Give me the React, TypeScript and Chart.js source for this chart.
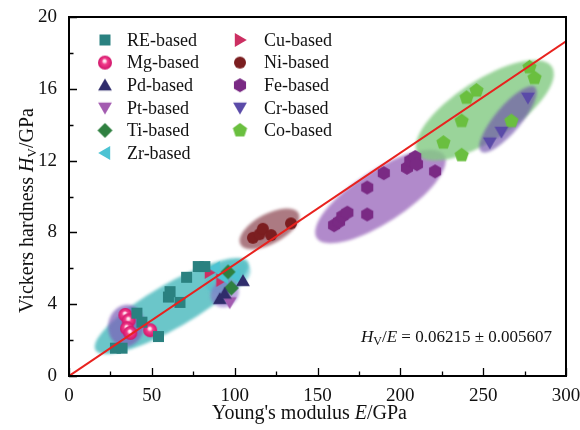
import React, { useEffect, useRef } from 'react';
import { Chart, registerables } from 'chart.js';

Chart.register(...registerables);

// ---------- data ----------
const reX = [28, 32, 41, 44, 54, 60, 61, 67, 71, 78, 82];
const reY = [1.55, 1.55, 3.5, 3.0, 2.2, 4.4, 4.7, 4.1, 5.5, 6.1, 6.1];
const mgX = [34, 36, 35, 37, 49];
const mgY = [3.4, 3.1, 2.65, 2.4, 2.55];
const pdX = [91, 94, 105];
const pdY = [4.3, 4.6, 5.3];
const ptX = [97];
const ptY = [4.1];
const tiX = [96, 98];
const tiY = [5.8, 4.9];
const zrX = [88, 93, 100];
const zrY = [6.0, 5.5, 5.6];
const cuX = [85, 92];
const cuY = [5.8, 5.35];
const niX = [111, 115, 117, 122, 134];
const niY = [7.7, 7.9, 8.2, 7.85, 8.5];
const feX = [160, 163, 165, 168, 180, 180, 190, 204, 206, 209, 210, 221];
const feY = [8.4, 8.6, 8.9, 9.1, 9.0, 10.5, 11.3, 11.6, 12.0, 12.2, 11.8, 11.4];
const crX = [254, 261, 277];
const crY = [13.0, 13.6, 15.5];
const coX = [226, 237, 237, 240, 246, 267, 278, 281];
const coY = [13.0, 12.3, 14.2, 15.5, 15.9, 14.2, 17.2, 16.6];

const fitSlope = 0.06215;
const fitErr = 0.005607;
const fitX = [0, 300];

const xTicks = [0, 50, 100, 150, 200, 250, 300];
const yTicks = [0, 4, 8, 12, 16, 20];

// shaded group regions: data-space centres
const groupCx = [62, 34.5, 96, 94, 121, 188, 251, 265];
const groupCy = [3.9, 2.8, 5.5, 4.6, 8.2, 10.0, 14.8, 14.3];

// ---------- styles ----------
const SERIF = '"Liberation Serif", "Times New Roman", serif';

type Series = { label: string; xs: number[]; ys: number[]; kind: string; color: string; size: number };

const series: Series[] = [
  { label: 'RE-based', xs: reX, ys: reY, kind: 'square', color: '#2a8180', size: 11 },
  { label: 'Mg-based', xs: mgX, ys: mgY, kind: 'sphere', color: '#ee1f78', size: 14 },
  { label: 'Pd-based', xs: pdX, ys: pdY, kind: 'triUp', color: '#2f2c6b', size: 16 },
  { label: 'Pt-based', xs: ptX, ys: ptY, kind: 'triDown', color: '#a35bb0', size: 16 },
  { label: 'Ti-based', xs: tiX, ys: tiY, kind: 'diamond', color: '#2f8040', size: 15 },
  { label: 'Zr-based', xs: zrX, ys: zrY, kind: 'triLeft', color: '#4cc3d3', size: 16 },
  { label: 'Cu-based', xs: cuX, ys: cuY, kind: 'triRight', color: '#cc2f62', size: 16 },
  { label: 'Ni-based', xs: niX, ys: niY, kind: 'circle', color: '#7b1e20', size: 12 },
  { label: 'Fe-based', xs: feX, ys: feY, kind: 'hexagon', color: '#7a2a84', size: 14 },
  { label: 'Cr-based', xs: crX, ys: crY, kind: 'triDown', color: '#5a4aa8', size: 16 },
  { label: 'Co-based', xs: coX, ys: coY, kind: 'pentagon', color: '#6abf3f', size: 15 },
];

const groupStyle = [
  { a: 88, b: 22, ang: -30, color: 'rgba(70,184,188,0.8)' },
  { a: 21, b: 18, ang: -80, color: 'rgba(125,95,185,0.72)' },
  { a: 24, b: 14, ang: -25, color: 'rgba(80,190,200,0.55)' },
  { a: 15, b: 13, ang: -40, color: 'rgba(140,110,200,0.6)' },
  { a: 33, b: 15, ang: -28, color: 'rgba(140,70,82,0.72)' },
  { a: 76, b: 26, ang: -33, color: 'rgba(160,112,192,0.82)' },
  { a: 80, b: 30, ang: -33, color: 'rgba(132,202,132,0.82)' },
  { a: 42, b: 13, ang: -50, color: 'rgba(110,80,170,0.65)' },
];

function polygon(g: CanvasRenderingContext2D, cx: number, cy: number, r: number, n: number, a0: number) {
  for (let k = 0; k < n; k++) {
    const t = a0 + (k * 2 * Math.PI) / n;
    const px = cx + r * Math.cos(t);
    const py = cy + r * Math.sin(t);
    if (k === 0) g.moveTo(px, py);
    else g.lineTo(px, py);
  }
  g.closePath();
}

function makeMarker(kind: string, color: string, size: number): HTMLCanvasElement {
  const S = size + 4;
  const c = document.createElement('canvas');
  c.width = S;
  c.height = S;
  const g = c.getContext('2d')!;
  const cx = S / 2;
  const cy = S / 2;
  const r = size / 2;
  g.fillStyle = color;
  g.beginPath();
  switch (kind) {
    case 'square':
      g.rect(cx - r, cy - r, size, size);
      break;
    case 'circle':
      g.arc(cx, cy, r, 0, Math.PI * 2);
      break;
    case 'sphere': {
      const grd = g.createRadialGradient(cx - 0.5, cy - 2, 0, cx, cy, r);
      grd.addColorStop(0, '#ffffff');
      grd.addColorStop(0.2, '#ffd0e4');
      grd.addColorStop(0.42, '#f23d8a');
      grd.addColorStop(1, '#d0146a');
      g.fillStyle = grd;
      g.arc(cx, cy, r, 0, Math.PI * 2);
      break;
    }
    case 'triUp':
      polygon(g, cx, cy + r * 0.15, r, 3, -Math.PI / 2);
      break;
    case 'triDown':
      polygon(g, cx, cy - r * 0.15, r, 3, Math.PI / 2);
      break;
    case 'triLeft':
      polygon(g, cx + r * 0.15, cy, r, 3, Math.PI);
      break;
    case 'triRight':
      polygon(g, cx - r * 0.15, cy, r, 3, 0);
      break;
    case 'diamond':
      polygon(g, cx, cy, r, 4, -Math.PI / 2);
      break;
    case 'hexagon':
      polygon(g, cx, cy, r, 6, -Math.PI / 2);
      break;
    case 'pentagon':
      polygon(g, cx, cy, r, 5, -Math.PI / 2);
      break;
  }
  g.fill();
  return c;
}

const regionsPlugin = {
  id: 'regions',
  beforeDatasetsDraw(chart: any) {
    const { ctx, chartArea, scales } = chart;
    ctx.save();
    ctx.beginPath();
    ctx.rect(chartArea.left, chartArea.top, chartArea.right - chartArea.left, chartArea.bottom - chartArea.top);
    ctx.clip();
    ctx.filter = 'blur(1.5px)';
    groupCx.forEach((gx, i) => {
      const st = groupStyle[i];
      const px = scales.x.getPixelForValue(gx);
      const py = scales.y.getPixelForValue(groupCy[i]);
      ctx.beginPath();
      ctx.ellipse(px, py, st.a, st.b, (st.ang * Math.PI) / 180, 0, Math.PI * 2);
      ctx.fillStyle = st.color;
      ctx.fill();
    });
    ctx.restore();
  },
};

function drawRuns(ctx: CanvasRenderingContext2D, runs: { t: string; font: string; dy?: number }[], x: number, y: number, align: 'left' | 'right' | 'center') {
  let total = 0;
  runs.forEach((r) => {
    ctx.font = r.font;
    total += ctx.measureText(r.t).width;
  });
  let cx = align === 'left' ? x : align === 'right' ? x - total : x - total / 2;
  ctx.textAlign = 'left';
  runs.forEach((r) => {
    ctx.font = r.font;
    ctx.fillText(r.t, cx, y + (r.dy || 0));
    cx += ctx.measureText(r.t).width;
  });
}

const decorPlugin = {
  id: 'decor',
  afterDraw(chart: any, _a: any, opts: any) {
    const { ctx, chartArea, scales } = chart;
    const { left, right, top, bottom } = chartArea;
    const markers: HTMLCanvasElement[] = opts.markers;
    ctx.save();
    // frame
    ctx.strokeStyle = '#000';
    ctx.lineWidth = 2;
    ctx.strokeRect(left, top, right - left, bottom - top);
    // ticks (inward), major + minor
    ctx.lineWidth = 1.3;
    ctx.beginPath();
    for (let v = 0; v <= 300; v += 25) {
      const px = Math.round(scales.x.getPixelForValue(v)) + 0.5;
      const len = v % 50 === 0 ? 8 : 4.5;
      ctx.moveTo(px, bottom);
      ctx.lineTo(px, bottom - len);
    }
    for (let v = 0; v <= 20; v += 2) {
      const py = Math.round(scales.y.getPixelForValue(v)) + 0.5;
      const len = v % 4 === 0 ? 8 : 4.5;
      ctx.moveTo(left, py);
      ctx.lineTo(left + len, py);
    }
    ctx.stroke();

    ctx.fillStyle = '#111';
    ctx.textBaseline = 'middle';
    // legend
    series.forEach((s, i) => {
      const col = i < 6 ? 0 : 1;
      const row = i < 6 ? i : i - 6;
      const mx = left + (col === 0 ? 36 : 171);
      const tx = left + (col === 0 ? 58 : 195);
      const my = top + 23 + row * 22.6;
      const m = markers[i];
      ctx.drawImage(m, mx - m.width / 2, my - m.height / 2);
      ctx.font = `18px ${SERIF}`;
      ctx.textAlign = 'left';
      ctx.fillText(s.label, tx, my + 1);
    });

    // fit annotation
    ctx.textBaseline = 'alphabetic';
    drawRuns(
      ctx,
      [
        { t: 'H', font: `italic 17px ${SERIF}` },
        { t: 'V', font: `12px ${SERIF}`, dy: 3 },
        { t: '/', font: `17px ${SERIF}` },
        { t: 'E', font: `italic 17px ${SERIF}` },
        { t: ` = ${fitSlope} ± ${fitErr}`, font: `17px ${SERIF}` },
      ],
      right - 14,
      top + 325,
      'right'
    );

    // axis titles
    drawRuns(
      ctx,
      [
        { t: "Young's modulus ", font: `20px ${SERIF}` },
        { t: 'E', font: `italic 20px ${SERIF}` },
        { t: '/GPa', font: `20px ${SERIF}` },
      ],
      (left + right) / 2 - 8,
      chart.height - 11,
      'center'
    );
    ctx.save();
    ctx.translate(33, (top + bottom) / 2 + 14);
    ctx.rotate(-Math.PI / 2);
    drawRuns(
      ctx,
      [
        { t: 'Vickers hardness ', font: `20px ${SERIF}` },
        { t: 'H', font: `italic 20px ${SERIF}` },
        { t: 'V', font: `13px ${SERIF}`, dy: 3 },
        { t: '/GPa', font: `20px ${SERIF}` },
      ],
      0,
      0,
      'center'
    );
    ctx.restore();
    ctx.restore();
  },
};

export default function App() {
  const ref = useRef<HTMLCanvasElement>(null);
  useEffect(() => {
    if (!ref.current) return;
    const markers = series.map((s) => makeMarker(s.kind, s.color, s.size));
    const datasets: any[] = [
      {
        type: 'line',
        label: 'fit',
        data: fitX.map((x) => ({ x, y: x * fitSlope })),
        borderColor: '#e8221e',
        borderWidth: 2,
        pointRadius: 0,
        showLine: true,
        order: 0,
      },
      ...series.map((s, i) => ({
        type: 'scatter',
        label: s.label,
        data: s.xs.map((x, k) => ({ x, y: s.ys[k] })),
        pointStyle: markers[i],
        pointRadius: 7,
        order: 1,
      })),
    ];
    const chart = new Chart(ref.current, {
      type: 'scatter',
      data: { datasets },
      options: {
        responsive: false,
        animation: false,
        layout: { padding: { top: 17, right: 14, left: 0, bottom: 0 } },
        plugins: {
          legend: { display: false },
          tooltip: { enabled: false },
          decor: { markers },
        } as any,
        scales: {
          x: {
            type: 'linear',
            min: 0,
            max: 300,
            grid: { display: false, drawTicks: false },
            border: { display: false },
            afterBuildTicks: (s: any) => {
              s.ticks = xTicks.map((v) => ({ value: v }));
            },
            ticks: { padding: 9, color: '#111', font: { family: SERIF, size: 19 } },
            afterFit: (s: any) => {
              s.height = 54;
              s.paddingLeft = 0;
              s.paddingRight = 0;
            },
          },
          y: {
            type: 'linear',
            min: 0,
            max: 20,
            grid: { display: false, drawTicks: false },
            border: { display: false },
            afterBuildTicks: (s: any) => {
              s.ticks = yTicks.map((v) => ({ value: v }));
            },
            ticks: { padding: 12, color: '#111', font: { family: SERIF, size: 19 } },
            afterFit: (s: any) => {
              s.width = 69;
              s.paddingTop = 0;
              s.paddingBottom = 0;
            },
          },
        },
      },
      plugins: [regionsPlugin, decorPlugin],
    });
    return () => chart.destroy();
  }, []);
  return (
    <div style={{ position: 'absolute', left: 0, top: 0, width: 580, height: 430, background: '#fff' }}>
      <canvas ref={ref} width={580} height={430} style={{ width: 580, height: 430 }} />
    </div>
  );
}
